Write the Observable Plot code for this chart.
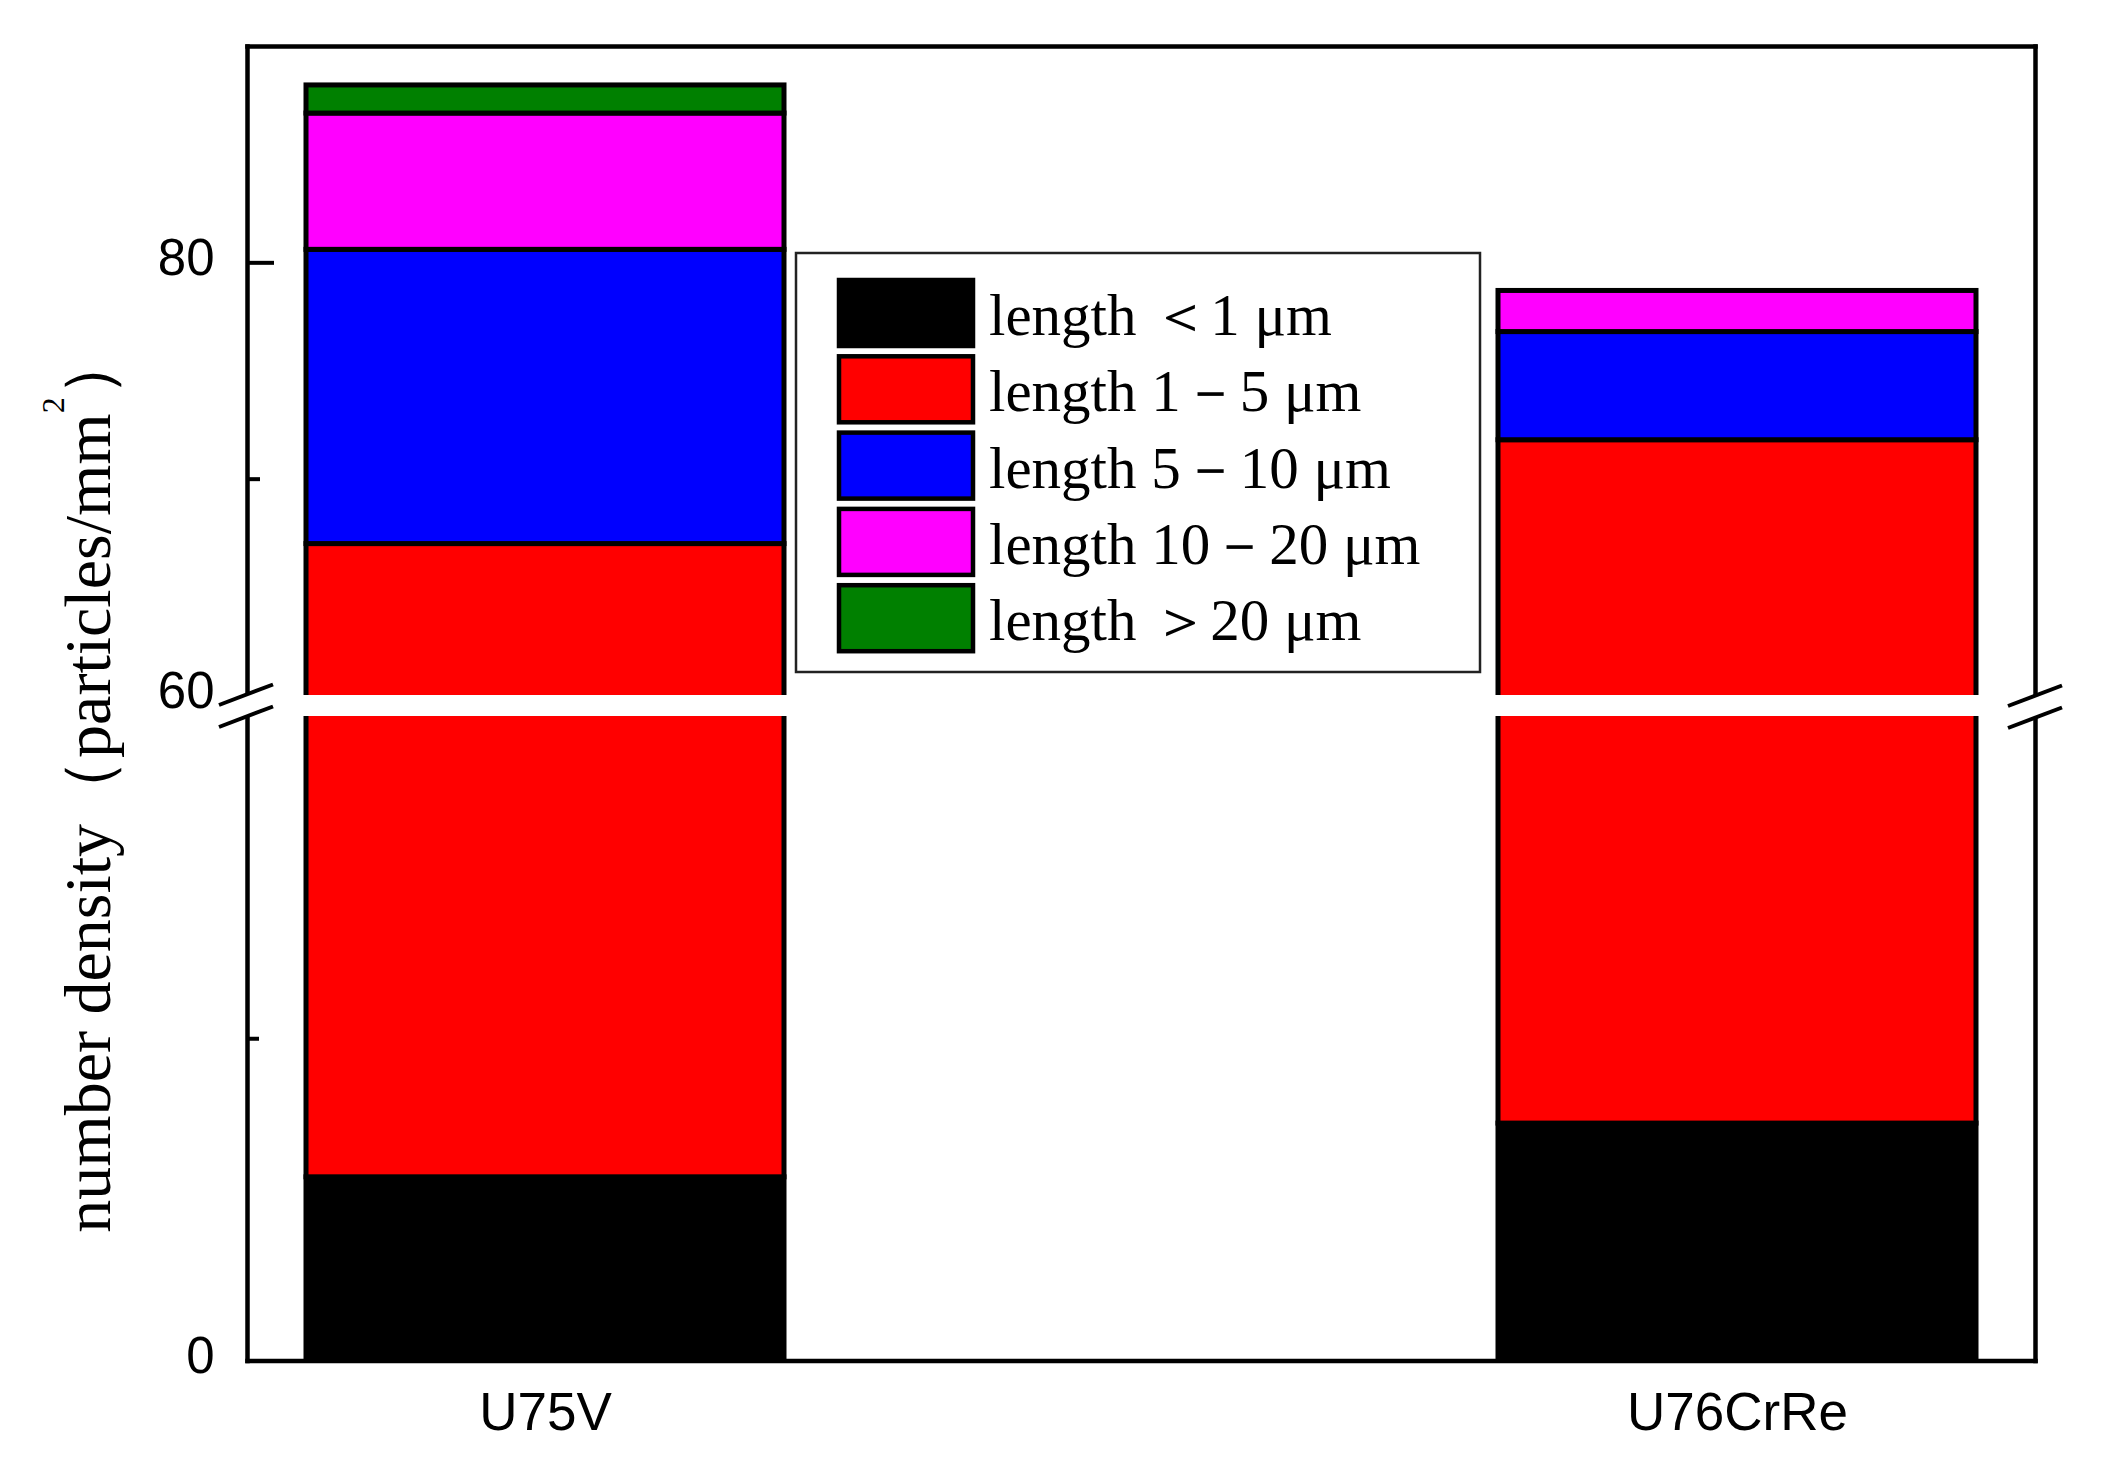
<!DOCTYPE html>
<html>
<head>
<meta charset="utf-8">
<script src="https://cdn.jsdelivr.net/npm/d3@7"></script>
<script src="https://cdn.jsdelivr.net/npm/@observablehq/plot@0.6"></script>
<style>
  body { margin: 0; background: white; }
  #chart { position: relative; width: 2105px; height: 1477px; }
  #chart svg { position: absolute; left: 0; }
</style>
</head>
<body>
<div id="chart"></div>
<script>
// values (particles/mm^2), bottom to top of each stack
const materials = ["U75V", "U76CrRe"];
const sizeClasses = ["length ＜1 μm", "length 1－5 μm", "length 5－10 μm", "length 10－20 μm", "length ＞20 μm"];
const u75v = [17.1, 49.9, 13.6, 6.3, 1.3];
const u76crre = [22.1, 49.7, 5.0, 1.9, 0];
const colors = ["#000000", "#ff0000", "#0000ff", "#ff00ff", "#008000"];

const series = [u75v, u76crre];
const rows = materials.flatMap((m, i) =>
    sizeClasses.map((s, j) => ({ material: m, size: s, value: series[i][j] }))
).filter((d) => d.value > 0);

const W = 2105;
const left = 247, right = 70;
const frameW = W - left - right;

const xOpts = { type: "band", domain: materials, paddingInner: 0.599, paddingOuter: 0.049 };
const colorOpts = { domain: sizeClasses, range: colors };
const baseStyle = { overflow: "visible", background: "transparent", color: "black", fontFamily: "'Liberation Sans', Arial, sans-serif", fontSize: "51px" };
const bars = Plot.barY(rows, { x: "material", y: "value", fill: "size", stroke: "black", strokeWidth: 5, clip: true });

// upper segment of the broken axis: 60 – 90
const upper = Plot.plot({
    width: W,
    height: 705,
    marginTop: 46,
    marginBottom: 10,
    marginLeft: left,
    marginRight: right,
    style: baseStyle,
    x: { ...xOpts, axis: null },
    y: { domain: [60, 90], label: null },
    color: colorOpts,
    marks: [
        bars,
        Plot.frame({ anchor: "top", strokeWidth: 4.5 }),
        Plot.frame({ anchor: "left", strokeWidth: 4.5 }),
        Plot.frame({ anchor: "right", strokeWidth: 4.5 }),
        Plot.ruleY([80], { insetRight: frameW - 27, strokeWidth: 4 }),
        Plot.ruleY([70], { insetRight: frameW - 13, strokeWidth: 4 }),
        Plot.axisY({ ticks: [60, 80], tickSize: 0, tickPadding: 33, dy: -4, label: null }),
    ],
});
upper.style.top = "0px";

// lower segment: 0 – 60, compressed by half
const lower = Plot.plot({
    width: W,
    height: 777,
    marginTop: 16,
    marginBottom: 116.5,
    marginLeft: left,
    marginRight: right,
    style: baseStyle,
    x: xOpts,
    y: { domain: [0, 60], label: null },
    color: colorOpts,
    marks: [
        bars,
        Plot.frame({ anchor: "bottom", strokeWidth: 4.5 }),
        Plot.frame({ anchor: "left", strokeWidth: 4.5 }),
        Plot.frame({ anchor: "right", strokeWidth: 4.5 }),
        Plot.ruleY([30], { insetRight: frameW - 12, strokeWidth: 4 }),
        Plot.axisY({ ticks: [0], tickSize: 0, tickPadding: 33, dy: -4, label: null }),
        Plot.axisX({ tickSize: 0, tickPadding: 31, fontSize: 53, label: null }),
    ],
});
lower.style.top = "700px";

const chart = document.getElementById("chart");
chart.appendChild(upper);
chart.appendChild(lower);

// overlay: break marks, legend, y title
const svg = d3.select(chart).append("svg")
    .attr("width", W).attr("height", 1477)
    .style("top", "0px").style("overflow", "visible");

function breakMark(x0, yTop) {
    const dx = 54, rise = 20.5, gap = 22;
    svg.append("path")
        .attr("d", `M${x0},${yTop}L${x0 + dx},${yTop - rise}L${x0 + dx},${yTop - rise + gap}L${x0},${yTop + gap}Z`)
        .attr("fill", "white");
    for (const off of [0, gap]) {
        svg.append("line")
            .attr("x1", x0).attr("y1", yTop + off)
            .attr("x2", x0 + dx).attr("y2", yTop - rise + off)
            .attr("stroke", "black").attr("stroke-width", 4);
    }
}
breakMark(219, 705);
breakMark(2008, 706);

// legend
const lg = svg.append("g");
lg.append("rect")
    .attr("x", 796).attr("y", 253).attr("width", 684).attr("height", 419)
    .attr("fill", "white").attr("stroke", "#222").attr("stroke-width", 2.5);
sizeClasses.forEach((s, i) => {
    const top = 278 + i * 76.3;
    lg.append("rect")
        .attr("x", 839).attr("y", top + 2).attr("width", 134).attr("height", 66)
        .attr("fill", colors[i]).attr("stroke", "black").attr("stroke-width", 4.5);
    lg.append("text")
        .attr("x", 989).attr("y", top + 57)
        .attr("font-family", "'Liberation Serif', 'Times New Roman', serif")
        .attr("font-size", 59)
        .text(s);
});

// y axis title
const yt = svg.append("text")
    .attr("transform", "translate(110,782) rotate(-90)")
    .attr("text-anchor", "middle")
    .attr("font-family", "'Liberation Serif', 'Times New Roman', serif")
    .attr("font-size", 66);
yt.append("tspan").text("number density（particles/mm");
yt.append("tspan").attr("font-size", 32).attr("dy", -46).text("2");
yt.append("tspan").attr("dy", 46).text("）");
</script>
</body>
</html>
